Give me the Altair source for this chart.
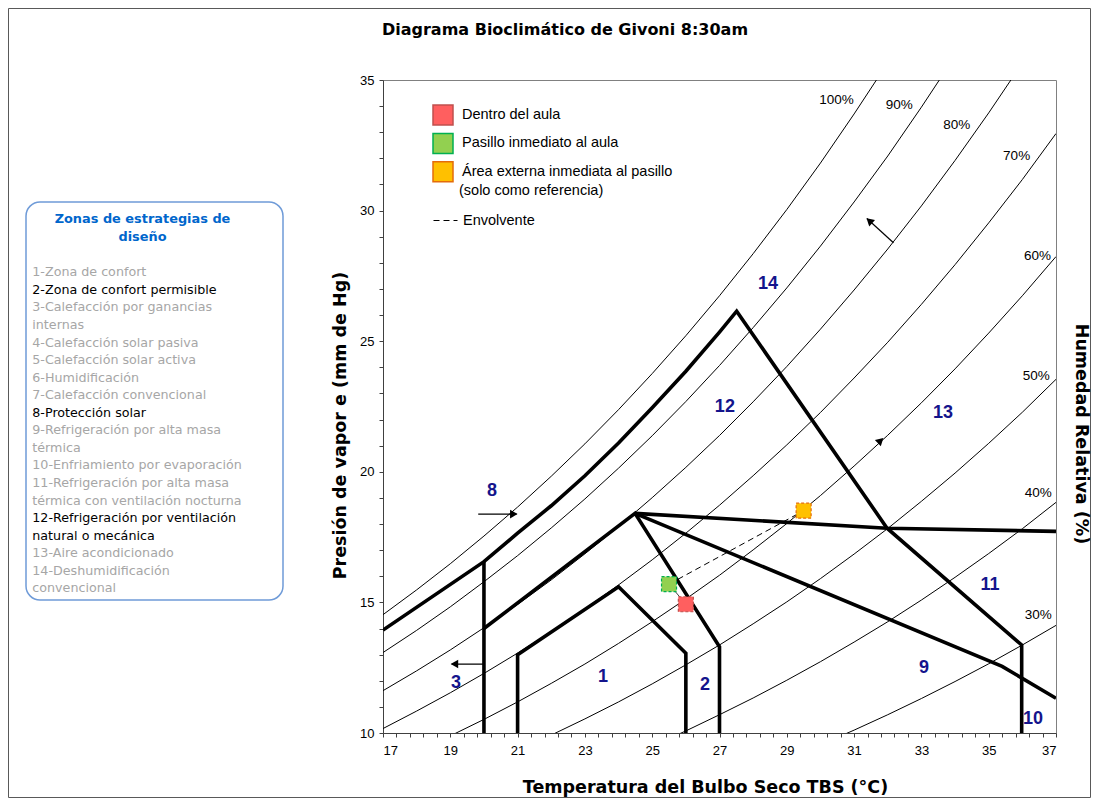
import altair as alt
import pandas as pd

# ---------------- data ----------------
TEMPS = list(range(17, 38))
RH100 = [14.53, 15.48, 16.48, 17.54, 18.65, 19.83, 21.07, 22.38, 23.76, 25.21, 26.74, 28.35, 30.04, 31.82, 33.70, 35.66, 37.73, 39.90, 42.18, 44.56, 47.07]
RH90 = [13.08, 13.93, 14.83, 15.79, 16.79, 17.85, 18.96, 20.14, 21.38, 22.69, 24.07, 25.52, 27.04, 28.64, 30.33, 32.09, 33.96, 35.91, 37.96, 40.10, 42.36]
RH80 = [11.62, 12.38, 13.18, 14.03, 14.92, 15.86, 16.86, 17.90, 19.01, 20.17, 21.39, 22.68, 24.03, 25.46, 26.96, 28.53, 30.18, 31.92, 33.74, 35.65, 37.66]
RH70 = [10.17, 10.84, 11.54, 12.28, 13.06, 13.88, 14.75, 15.67, 16.63, 17.65, 18.72, 19.85, 21.03, 22.27, 23.59, 24.96, 26.41, 27.93, 29.53, 31.19, 32.95]
RH60 = [8.72, 9.29, 9.89, 10.52, 11.19, 11.90, 12.64, 13.43, 14.26, 15.13, 16.04, 17.01, 18.02, 19.09, 20.22, 21.40, 22.64, 23.94, 25.31, 26.74, 28.24]
RH50 = [7.27, 7.74, 8.24, 8.77, 9.33, 9.92, 10.54, 11.19, 11.88, 12.61, 13.37, 14.18, 15.02, 15.91, 16.85, 17.83, 18.87, 19.95, 21.09, 22.28, 23.54]
RH40 = [5.81, 6.19, 6.59, 7.02, 7.46, 7.93, 8.43, 8.95, 9.50, 10.08, 10.70, 11.34, 12.02, 12.73, 13.48, 14.26, 15.09, 15.96, 16.87, 17.82, 18.83]
RH30 = [4.36, 4.64, 4.94, 5.26, 5.60, 5.95, 6.32, 6.71, 7.13, 7.56, 8.02, 8.51, 9.01, 9.55, 10.11, 10.70, 11.32, 11.97, 12.65, 13.37, 14.12]
RH_CURVES = {"100%": RH100, "90%": RH90, "80%": RH80, "70%": RH70,
             "60%": RH60, "50%": RH50, "40%": RH40, "30%": RH30}

RH_LABELS = ["100%", "90%", "80%", "70%", "60%", "50%", "40%", "30%"]
RH_LABEL_T = [30.48, 32.34, 34.05, 35.83, 36.45, 36.41, 36.47, 36.47]
RH_LABEL_E = [34.22, 34.04, 33.28, 32.09, 28.27, 23.67, 19.18, 14.52]

ZONE_LINES = {
    "A": ([17, 20, 21, 22, 23, 24, 25, 26, 27, 27.51, 31.98, 35.98, 35.98],
          [13.94, 16.56, 17.65, 18.7, 19.85, 21.1, 22.45, 23.85, 25.35, 26.15, 17.84, 13.37, 10]),
    "B": ([20, 20], [10, 16.56]),
    "C": ([20, 24.49, 27.0, 27.0], [14.0, 18.41, 13.3, 10]),
    "D": ([21, 21, 24.0, 26.0, 26.0], [10, 13.0, 15.6, 13.05, 10]),
    "E": ([24.49, 31.98, 37], [18.41, 17.84, 17.72]),
    "F": ([24.49, 35.4, 37], [18.41, 12.55, 11.33]),
}

ZONE_NUM = ["14", "12", "13", "8", "11", "9", "1", "2", "3", "10"]
ZONE_T = [28.44, 27.16, 33.64, 20.24, 35.04, 33.08, 23.54, 26.57, 19.17, 36.32]
ZONE_E = [27.19, 22.48, 22.25, 19.26, 15.67, 12.49, 12.14, 11.84, 11.91, 10.54]

ARROW_T0 = [19.83, 19.98, 32.17]
ARROW_E0 = [18.38, 12.64, 28.77]
ARROW_T1 = [20.97, 19.04, 31.38]
ARROW_E1 = [18.38, 12.64, 29.70]
HEAD_T = [20.85, 19.16, 31.48, 31.76]
HEAD_E = [18.38, 12.64, 29.58, 21.16]
HEAD_DIR = [90, 270, 312, 47]

PLACES = ["Dentro del aula", "Pasillo inmediato al aula", "Área externa inmediata al pasillo"]
PT_T = [26.0, 25.5, 29.5]
PT_E = [14.93, 15.70, 18.51]
PT_FILL = ["#ff5f5f", "#92d050", "#ffc000"]
PT_STROKE = ["#c0504d", "#00b050", "#e46c0a"]

ZONAS = ["1-Zona de confort", "2-Zona de confort permisible", "3-Calefacción por ganancias",
         "internas", "4-Calefacción solar pasiva", "5-Calefacción solar activa",
         "6-Humidificación", "7-Calefacción convencional", "8-Protección solar",
         "9-Refrigeración por alta masa", "térmica", "10-Enfriamiento por evaporación",
         "11-Refrigeración por alta masa", "térmica con ventilación nocturna",
         "12-Refrigeración por ventilación", "natural o mecánica", "13-Aire acondicionado",
         "14-Deshumidificación", "convencional"]
ZONAS_ACTIVAS = [0, 1, 0, 0, 0, 0, 0, 0, 1, 0, 0, 0, 0, 0, 1, 1, 0, 0, 0]

# ---------------- tables ----------------
rh_df = pd.DataFrame([{"rh": k, "t": t, "e": e, "i": i}
                      for k, vals in RH_CURVES.items()
                      for i, (t, e) in enumerate(zip(TEMPS, vals))])
rhlab_df = pd.DataFrame({"lab": RH_LABELS, "t": RH_LABEL_T, "e": RH_LABEL_E})
zone_df = pd.DataFrame([{"z": k, "t": t, "e": e, "i": i}
                        for k, (ts, es) in ZONE_LINES.items()
                        for i, (t, e) in enumerate(zip(ts, es))])
znum_df = pd.DataFrame({"n": ZONE_NUM, "t": ZONE_T, "e": ZONE_E})
arrow_df = pd.DataFrame({"t": ARROW_T0, "e": ARROW_E0, "t2": ARROW_T1, "e2": ARROW_E1})
head_df = pd.DataFrame({"t": HEAD_T, "e": HEAD_E, "ang": HEAD_DIR})
pt_df = pd.DataFrame({"lugar": PLACES, "t": PT_T, "e": PT_E})
env_df = pd.DataFrame({"tipo": ["Envolvente", "Envolvente"], "t": [PT_T[1], PT_T[2]],
                       "e": [PT_E[1], PT_E[2]], "i": [0, 1]})
conn_df = pd.DataFrame({"t": [PT_T[1], PT_T[0]], "e": [PT_E[1], PT_E[0]], "i": [0, 1]})

# ---------------- scales / axes ----------------
xvals = [round(17 + 0.4 * k, 1) for k in range(51)]
X = alt.X("t:Q", scale=alt.Scale(domain=[17, 37], nice=False, zero=False),
          axis=alt.Axis(values=xvals, grid=False, tickSize=4, labelOverlap=False,
                        labelExpr="(abs(datum.value - round(datum.value)) < 0.001 && round(datum.value) % 2 == 1) ? datum.value : ''",
                        labelPadding=7, title="Temperatura  del Bulbo Seco TBS (°C)",
                        titleX=322, titleY=54, titleAlign="center", titleBaseline="middle"))
Y = alt.Y("e:Q", scale=alt.Scale(domain=[10, 35], nice=False, zero=False),
          axis=alt.Axis(values=list(range(10, 36)), grid=False, tickSize=4, labelOverlap=False,
                        labelExpr="datum.value % 5 == 0 ? datum.value : ''",
                        labelPadding=5, title="Presión de vapor e (mm de Hg)",
                        titleX=-43, titleY=345, titleAlign="center", titleBaseline="middle"))

layers = []

# outer frame of the figure
layers.append(alt.Chart(pd.DataFrame({"k": [0]})).mark_rect(
    fill="transparent", stroke="#595959", strokeWidth=1).encode(
    x=alt.value(-374.5), x2=alt.value(707.5), y=alt.value(-71.5), y2=alt.value(717.5)))

layers.append(alt.Chart(rh_df).mark_line(color="black", strokeWidth=1, clip=True).encode(
    x=X, y=Y, detail="rh:N", order="i:Q"))
layers.append(alt.Chart(zone_df).mark_line(color="black", strokeWidth=3.6, clip=True,
                                            strokeJoin="miter").encode(
    x=X, y=Y, detail="z:N", order="i:Q"))
layers.append(alt.Chart(arrow_df).mark_rule(color="black", strokeWidth=1.2).encode(
    x=X, y=Y, x2="t2:Q", y2="e2:Q"))
layers.append(alt.Chart(head_df).mark_point(shape="triangle", filled=True, color="black",
                                             size=75, opacity=1).encode(
    x=X, y=Y, angle=alt.Angle("ang:Q", scale=None)))
layers.append(alt.Chart(conn_df).mark_line(color="#404040", strokeWidth=1).encode(
    x=X, y=Y, order="i:Q"))
layers.append(alt.Chart(env_df).mark_line(color="black", strokeWidth=1).encode(
    x=X, y=Y, order="i:Q",
    strokeDash=alt.StrokeDash("tipo:N", scale=alt.Scale(domain=["Envolvente"], range=[[6, 4]]),
                              legend=alt.Legend(orient="none", legendX=50, legendY=128, title=None,
                                                symbolType="stroke", symbolSize=576,
                                                symbolStrokeColor="black", symbolStrokeWidth=1,
                                                labelFont="Liberation Sans", labelFontSize=14.5,
                                                labelColor="black", labelOffset=5, padding=0))))
legend_pts = alt.Legend(orient="none", legendX=49, legendY=24, title=None, symbolType="square",
                        symbolSize=400, symbolStrokeWidth=1.5, symbolOpacity=1,
                        labelFont="Liberation Sans", labelFontSize=14.5, labelColor="black",
                        labelOffset=8, rowPadding=2.4, padding=0, labelLimit=0)
layers.append(alt.Chart(pt_df).mark_square(size=225, opacity=1, strokeWidth=1.2,
                                            strokeDash=[3, 2]).encode(
    x=X, y=Y,
    fill=alt.Fill("lugar:N", scale=alt.Scale(domain=PLACES, range=PT_FILL), legend=legend_pts),
    stroke=alt.Stroke("lugar:N", scale=alt.Scale(domain=PLACES, range=PT_STROKE), legend=legend_pts)))
layers.append(alt.Chart(rhlab_df).mark_text(font="Liberation Sans", fontSize=13.5,
                                             color="black").encode(x=X, y=Y, text="lab:N"))
layers.append(alt.Chart(znum_df).mark_text(font="Liberation Sans", fontSize=18, fontWeight="bold",
                                            color="#14148c").encode(x=X, y=Y, text="n:N"))

one = pd.DataFrame({"k": [0]})


def label(txt, x, y, **kw):
    return alt.Chart(pd.DataFrame({"s": [txt]})).mark_text(**kw).encode(
        text="s:N", x=alt.value(x), y=alt.value(y))


# legend second line
layers.append(label("(solo como referencia)", 76, 111, align="left", baseline="middle",
                    font="Liberation Sans", fontSize=14.5, color="black"))
# chart title
layers.append(label("Diagrama Bioclimático de Givoni 8:30am", 182, -50, align="center",
                    baseline="middle", font="DejaVu Sans", fontSize=16, fontWeight="bold",
                    color="black"))
# right title
layers.append(label("Humedad Relativa (%)", 698, 354, align="center", baseline="middle",
                    angle=90, font="DejaVu Sans", fontSize=17.5, fontWeight="bold", color="black"))

# left information box
layers.append(alt.Chart(one).mark_rect(fill="white", stroke="#6f9bd8", strokeWidth=1.5,
                                        cornerRadius=14).encode(
    x=alt.value(-357), x2=alt.value(-100), y=alt.value(122), y2=alt.value(520)))
layers.append(label("Zonas de estrategias de", -240.5, 139, align="center", baseline="middle",
                    font="DejaVu Sans", fontSize=12.9, fontWeight="bold", color="#0066cc"))
layers.append(label("diseño", -240.5, 156.7, align="center", baseline="middle",
                    font="DejaVu Sans", fontSize=12.9, fontWeight="bold", color="#0066cc"))
for k, (txt, act) in enumerate(zip(ZONAS, ZONAS_ACTIVAS)):
    layers.append(label(txt, -350.7, 192.3 + 17.56 * k, align="left", baseline="middle",
                        font="DejaVu Sans", fontSize=12.7,
                        color="black" if act else "#a6a6a6"))

chart = alt.layer(*layers).properties(
    width=673, height=653,
    autosize=alt.AutoSizeParams(type="none"),
    padding={"left": 375, "top": 72, "right": 35, "bottom": 65},
).configure_view(stroke="#808080", strokeWidth=1).configure_axis(
    domainColor="#404040", tickColor="#404040", labelFont="Liberation Sans", labelFontSize=13,
    labelColor="black", titleFont="DejaVu Sans", titleFontSize=17.5, titleFontWeight="bold",
    titleColor="black")

chart.save("out.html", embed_options={"renderer": "svg", "actions": False})
